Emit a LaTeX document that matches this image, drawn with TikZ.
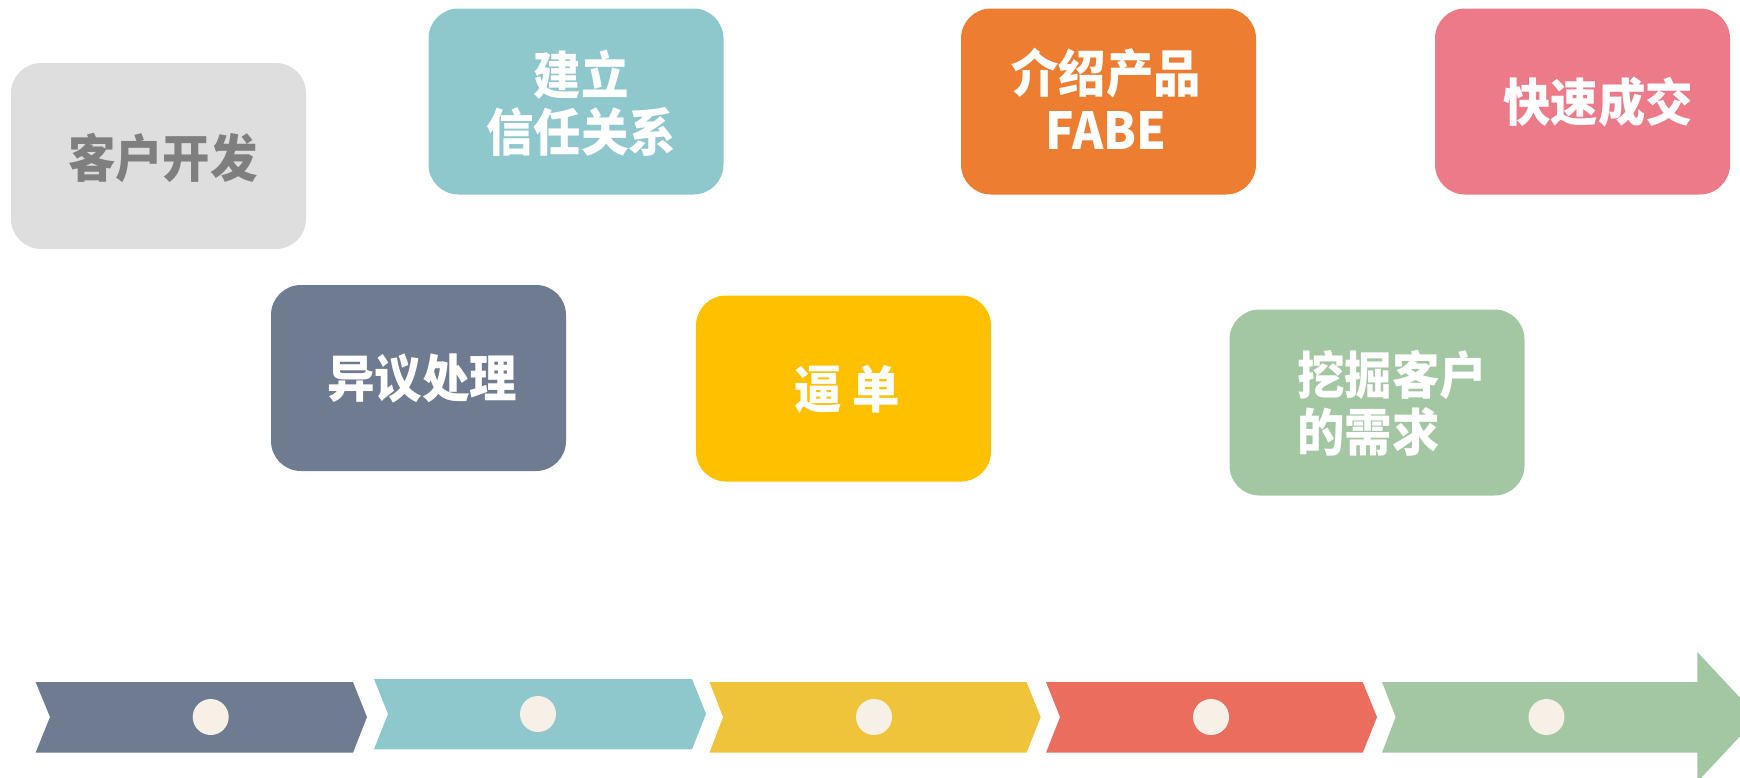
\documentclass[tikz,border=0pt]{standalone}
\usepackage{fontspec}
\newfontfamily\cjk{Noto Sans CJK SC}[FakeStretch=0.93]
\definecolor{cgray}{HTML}{DEDEDE}
\definecolor{cgraytext}{HTML}{7F7F7F}
\definecolor{cteal}{HTML}{8FC8CC}
\definecolor{corange}{HTML}{ED7D31}
\definecolor{cpink}{HTML}{EC7A88}
\definecolor{cslate}{HTML}{6F7B91}
\definecolor{cyellow}{HTML}{FFC000}
\definecolor{cgreen}{HTML}{A2C7A2}
\definecolor{syellow}{HTML}{F0C43A}
\definecolor{sred}{HTML}{EB6D5E}
\definecolor{dotc}{HTML}{F7F0E6}
\begin{document}
\begin{tikzpicture}[x=1pt,y=-1pt,
  box/.style={rounded corners=30pt, minimum width=295pt, minimum height=186pt, inner sep=0pt},
  lbl/.style={text=white, font=\cjk\bfseries\fontsize{51}{57}\selectfont, align=center, inner sep=0pt},
  dotmark/.style={circle, fill=dotc, minimum size=36pt, inner sep=0pt}]
\useasboundingbox (0,0) rectangle (1740,777);
% boxes
\node[box, fill=cgray]   (b1) at (158.5,156) {};
\node[box, fill=cteal]   (b2) at (576,101.5) {};
\node[box, fill=corange] (b3) at (1108.5,101.5) {};
\node[box, fill=cpink]   (b4) at (1582.5,101.5) {};
\node[box, fill=cslate]  (b5) at (418.5,378) {};
\node[box, fill=cyellow] (b6) at (843.5,388.5) {};
\node[box, fill=cgreen]  (b7) at (1377,402.5) {};
% labels
\node[lbl, text=cgraytext] (t1) at (163,158) {客户开发};
\node[lbl] (t2) at (581,103) {建立\\信任关系};
\node[lbl] (t3) at (1106,99) {介绍产品\\FABE};
\node[lbl] (t4) at (1598,102) {快速成交};
\node[lbl] (t5) at (422,378) {异议处理};
\node[lbl] (t6) at (847,389) {逼 单};
\node[lbl, align=left, anchor=west] (t7) at (1297,403.5) {挖掘客户\\的需求};
% timeline segments
\fill[cslate]  (35.6,682) -- (353,682) -- (367,717) -- (353,752.7) -- (35.6,752.7) -- (50,717) -- cycle;
\fill[cteal]   (374,679) -- (692,679) -- (706,714) -- (692,749.3) -- (374,749.3) -- (388,714) -- cycle;
\fill[syellow] (709.5,682) -- (1026.5,682) -- (1040.7,717) -- (1026.5,752.7) -- (709.5,752.7) -- (723,717) -- cycle;
\fill[sred]    (1046,682) -- (1362.7,682) -- (1377,717) -- (1362.7,752.7) -- (1046,752.7) -- (1060,717) -- cycle;
\fill[cgreen]  (1382,682) -- (1697.3,682) -- (1697.3,652) -- (1758,717) -- (1697.3,782) -- (1697.3,752.7) -- (1382,752.7) -- (1395.6,717) -- cycle;
% dots
\node[dotmark] (d1) at (210.7,717) {};
\node[dotmark] (d2) at (538,714) {};
\node[dotmark] (d3) at (874,717) {};
\node[dotmark] (d4) at (1211,717) {};
\node[dotmark] (d5) at (1546.5,717) {};
\end{tikzpicture}
\end{document}
